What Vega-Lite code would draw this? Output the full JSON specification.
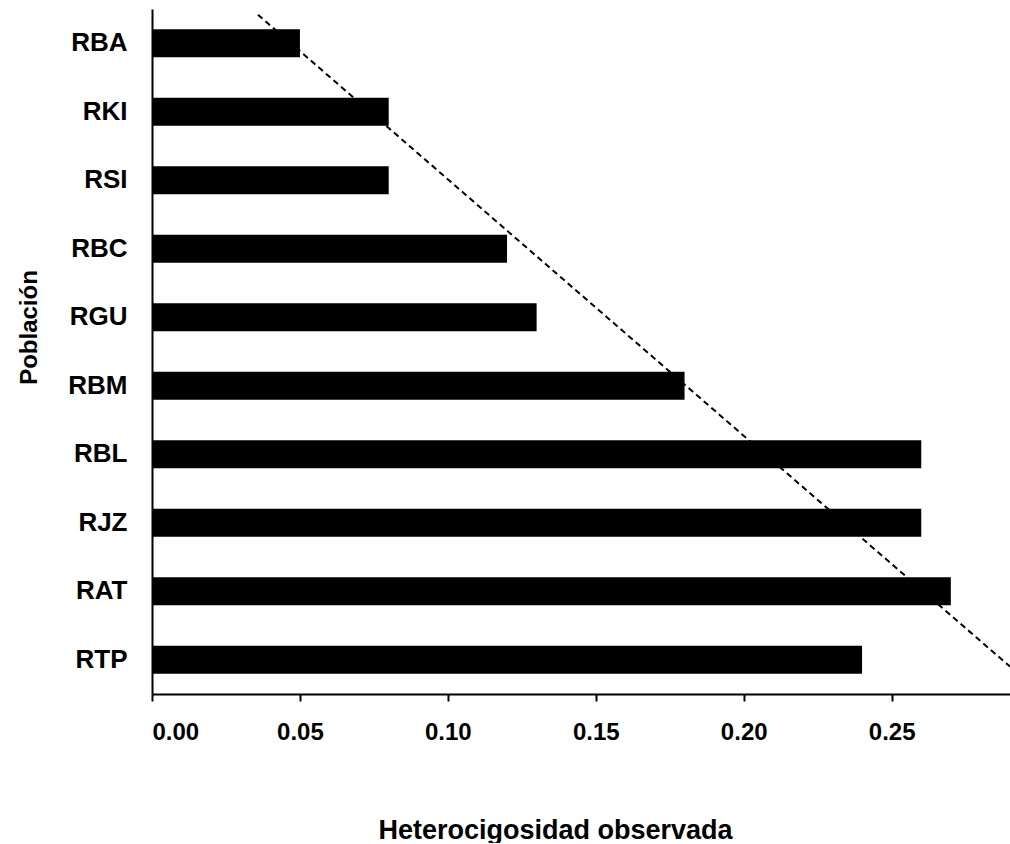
{
  "$schema": "https://vega.github.io/schema/vega-lite/v6.json",
  "width": 858,
  "height": 685,
  "padding": {"left": 17, "top": 9, "right": 0, "bottom": 0},
  "background": "white",
  "config": {
    "view": {"stroke": null},
    "font": "Liberation Sans",
    "axis": {"grid": false, "domainColor": "black", "domainWidth": 2, "tickColor": "black", "tickWidth": 2, "labelColor": "black", "titleColor": "black", "labelFontWeight": "bold", "titleFontWeight": "bold", "labelFont": "Liberation Sans", "titleFont": "Liberation Sans"}
  },
  "datasets": {
    "bars": [
      {"Poblacion": "RBA", "Ho": 0.05},
      {"Poblacion": "RKI", "Ho": 0.08},
      {"Poblacion": "RSI", "Ho": 0.08},
      {"Poblacion": "RBC", "Ho": 0.12},
      {"Poblacion": "RGU", "Ho": 0.13},
      {"Poblacion": "RBM", "Ho": 0.18},
      {"Poblacion": "RBL", "Ho": 0.26},
      {"Poblacion": "RJZ", "Ho": 0.26},
      {"Poblacion": "RAT", "Ho": 0.27},
      {"Poblacion": "RTP", "Ho": 0.24}
    ],
    "trend": [
      {"Ho": 0.0358, "pos": 0.583},
      {"Ho": 0.29, "pos": 10.1}
    ]
  },
  "layer": [
    {
      "data": {"name": "bars"},
      "mark": {"type": "bar", "color": "black"},
      "encoding": {
        "y": {
          "field": "Poblacion", "type": "nominal", "sort": null,
          "scale": {"paddingInner": 0.59, "paddingOuter": 0.295},
          "axis": {"title": "Población", "ticks": false, "labelPadding": 25, "labelFontSize": 26, "titleFontSize": 24, "titleAngle": -90, "titleX": -116, "titleY": 318, "titleAlign": "center", "titleBaseline": "alphabetic"}
        },
        "x": {
          "field": "Ho", "type": "quantitative",
          "scale": {"domain": [0, 0.29], "nice": false, "zero": true},
          "axis": {"title": "Heterocigosidad observada", "values": [0, 0.05, 0.1, 0.15, 0.2, 0.25], "format": ".2f", "tickSize": 7, "labelPadding": 19, "labelFontSize": 24, "titleFontSize": 27, "titleX": 403, "titleY": 144, "titleAlign": "center", "titleBaseline": "alphabetic"}
        }
      }
    },
    {
      "data": {"name": "trend"},
      "mark": {"type": "line", "color": "black", "strokeWidth": 2, "strokeDash": [6, 4]},
      "encoding": {
        "x": {"field": "Ho", "type": "quantitative"},
        "y": {"field": "pos", "type": "quantitative", "scale": {"domain": [0.5, 10.5], "reverse": true, "nice": false, "zero": false}, "axis": null}
      }
    }
  ],
  "resolve": {"scale": {"y": "independent"}}
}
